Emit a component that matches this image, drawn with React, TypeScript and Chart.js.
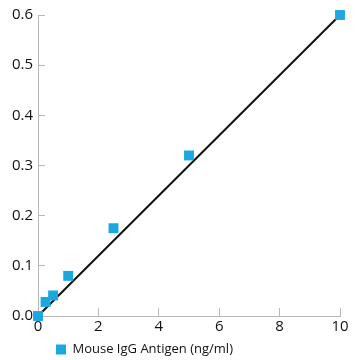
import React, { useEffect, useRef } from "react";
import { Chart, registerables } from "chart.js";

Chart.register(...registerables);

const concentrations = [0, 0.25, 0.5, 1, 2.5, 5, 10];
const absorbance = [0.0, 0.028, 0.041, 0.08, 0.175, 0.32, 0.6];
const fitX = [0, 10];
const fitY = [0, 0.6];
const seriesLabel = "Mouse IgG Antigen (ng/ml)";

const BLUE = "#1ba8e0";
const AXIS = "#b8b8b8";
const FONT = "'Open Sans', 'DejaVu Sans', sans-serif";

const legendShift = {
  id: "legendShift",
  afterLayout(chart: any) {
    const lg = chart.legend;
    if (lg) {
      lg.left += 12;
      lg.right += 12;
      lg.top += 6;
      lg.bottom += 6;
    }
  },
};

export default function App() {
  const ref = useRef<HTMLCanvasElement | null>(null);

  useEffect(() => {
    document.body.style.margin = "0";
    if (!ref.current) return;
    const chart = new Chart(ref.current, {
      type: "scatter",
      data: {
        datasets: [
          {
            label: seriesLabel,
            data: concentrations.map((x, i) => ({ x, y: absorbance[i] })),
            backgroundColor: BLUE,
            borderColor: BLUE,
            pointStyle: "rect",
            pointRadius: 7,
            pointHoverRadius: 7,
            borderWidth: 0,
            clip: false,
            order: 1,
          } as any,
          {
            label: "fit",
            type: "line",
            data: fitX.map((x, i) => ({ x, y: fitY[i] })),
            borderColor: "#111111",
            borderWidth: 2,
            pointRadius: 0,
            fill: false,
            clip: false,
            order: 2,
          } as any,
        ],
      },
      options: {
        responsive: false,
        animation: false,
        layout: { padding: { top: 15, right: 20, left: 0, bottom: 0 } },
        plugins: {
          tooltip: { enabled: false },
          legend: {
            position: "bottom",
            align: "start",
            fullSize: false,
            labels: {
              filter: (item) => item.datasetIndex === 0,
              usePointStyle: true,
              pointStyle: "rect",
              boxWidth: 10,
              boxHeight: 10,
              padding: 6,
              color: "#111",
              font: { family: FONT, size: 13 },
            },
          },
        },
        scales: {
          x: {
            type: "linear",
            min: 0,
            max: 10,
            ticks: {
              stepSize: 2,
              color: "#111",
              padding: 10,
              font: { family: FONT, size: 15 },
              maxRotation: 0,
            },
            grid: {
              drawOnChartArea: false,
              drawTicks: true,
              tickLength: -8,
              color: AXIS,
            },
            border: { color: AXIS, width: 1 },
            afterFit: (scale: any) => {
              scale.height = 15;
            },
          },
          y: {
            type: "linear",
            min: 0,
            max: 0.6,
            ticks: {
              stepSize: 0.1,
              color: "#111",
              padding: 12,
              font: { family: FONT, size: 15 },
              callback: (v) => Number(v).toFixed(1),
            },
            grid: {
              drawOnChartArea: false,
              drawTicks: true,
              tickLength: -7,
              color: AXIS,
            },
            border: { color: AXIS, width: 1 },
            afterFit: (scale: any) => {
              scale.width = 38;
              scale.paddingTop = 0;
              scale.paddingBottom = 0;
            },
          },
        },
      },
      plugins: [legendShift],
    });
    return () => chart.destroy();
  }, []);

  return <canvas ref={ref} width={360} height={360} style={{ display: "block" }} />;
}
